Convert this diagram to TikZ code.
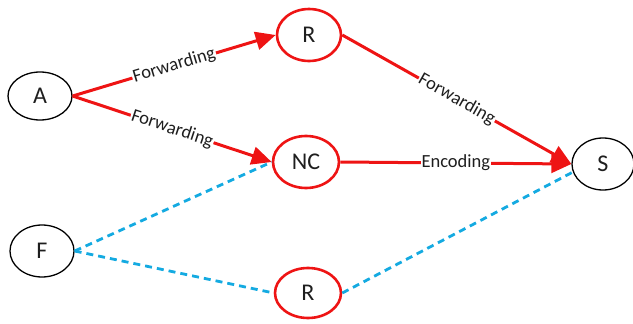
\documentclass[tikz,border=0pt]{standalone}
\usepackage{fontspec}
\setmainfont{Carlito}
\usetikzlibrary{shapes.geometric,arrows.meta}
\definecolor{netred}{RGB}{238,20,20}
\definecolor{netblue}{RGB}{20,170,225}
\definecolor{txt}{RGB}{30,30,30}
\tikzset{
  plain/.style={ellipse,draw=black,line width=1.3pt,minimum width=64pt,minimum height=52pt,inner sep=0pt,font=\fontsize{24}{26}\selectfont,text=txt},
  relay/.style={ellipse,draw=netred,line width=2.6pt,minimum width=64pt,minimum height=52pt,inner sep=0pt,font=\fontsize{24}{26}\selectfont,text=txt},
  redline/.style={draw=netred,line width=3pt},
  redarrow/.style={redline,-{Triangle[length=20pt,width=18pt]}},
  blueline/.style={draw=netblue,line width=2.8pt,dash pattern=on 7pt off 5pt},
  lbl/.style={fill=white,inner sep=1pt,font=\fontsize{18.5}{20}\selectfont,text=txt}
}
\begin{document}
\begin{tikzpicture}[x=1pt,y=-1pt]
\useasboundingbox (0,0) rectangle (633,324);
\node[plain,minimum height=48pt] (A) at (40,96) {A};
\node[relay] (R1) at (309,35) {R};
\node[relay,minimum width=66pt] (NC) at (306,162) {NC};
\node[plain,minimum width=62pt] (S) at (603,164) {S};
\node[plain] (F) at (42,251) {F};
\node[relay,minimum width=66pt,minimum height=50pt] (R2) at (308,293) {R};

\draw[redarrow] (A.east) -- node[lbl,sloped] {Forwarding} (R1.west);
\draw[redarrow] (A.east) -- node[lbl,sloped] {Forwarding} (NC.west);
\draw[redarrow] (R1.east) -- node[lbl,sloped] {Forwarding} (S.west);
\draw[redarrow] (NC.east) -- node[lbl] {Encoding} (S.west);

\draw[blueline] (F.east) -- (NC.west);
\draw[blueline] (F.east) -- (R2.west);
\draw[blueline] (R2.east) -- (S.195);
\end{tikzpicture}
\end{document}
